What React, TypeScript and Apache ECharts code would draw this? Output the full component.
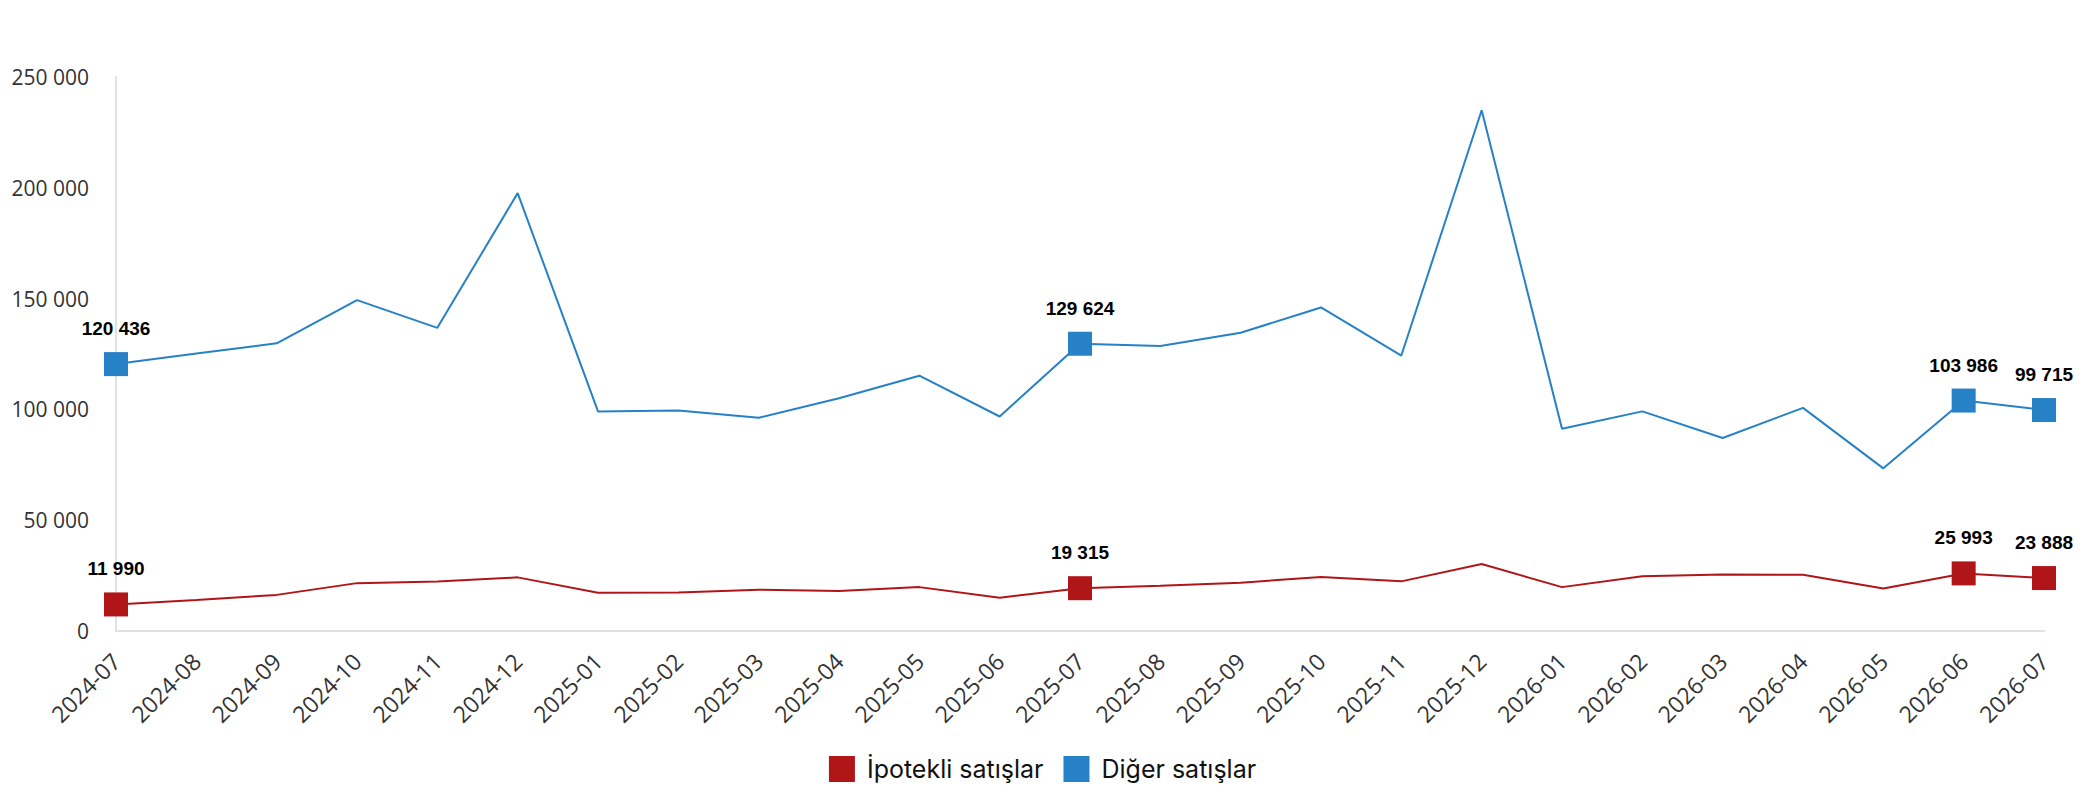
import React, { useEffect, useRef } from "react";
import * as echarts from "echarts";

const categories = [
  "2024-07", "2024-08", "2024-09", "2024-10", "2024-11", "2024-12",
  "2025-01", "2025-02", "2025-03", "2025-04", "2025-05", "2025-06",
  "2025-07", "2025-08", "2025-09", "2025-10", "2025-11", "2025-12",
  "2026-01", "2026-02", "2026-03", "2026-04", "2026-05", "2026-06", "2026-07",
];

const ipotekliValues = [
  11990, 14000, 16300, 21600, 22300, 24200,
  17300, 17400, 18600, 18000, 19800, 15000,
  19315, 20400, 21800, 24400, 22400, 30200,
  19800, 24700, 25500, 25400, 19200, 25993, 23888,
];

const digerValues = [
  120436, 125200, 129800, 149300, 136800, 197600,
  99100, 99500, 96200, 105000, 115200, 96800,
  129624, 128600, 134600, 146000, 124300, 235000,
  91300, 99100, 87100, 100700, 73400, 103986, 99715,
];

const highlighted = [0, 12, 23, 24];

const seriesNames = ["İpotekli satışlar", "Diğer satışlar"];
const seriesColors = ["#B01518", "#2681C7"];

const fmt = (v: number) => String(v).replace(/\B(?=(\d{3})+(?!\d))/g, " ");

function buildData(values: number[]) {
  return values.map((v, i) =>
    highlighted.includes(i)
      ? { value: v, symbol: "rect", symbolSize: 24, label: { show: true } }
      : { value: v, symbol: "none" }
  );
}

export default function App() {
  const ref = useRef<HTMLDivElement>(null);
  useEffect(() => {
    document.body.style.margin = "0";
    if (!ref.current) return;
    const chart = echarts.init(ref.current, undefined, { renderer: "svg" });
    const labelStyle = {
      show: false,
      position: "top",
      distance: 14,
      fontFamily: "Liberation Sans, Arial, sans-serif",
      fontWeight: "bold",
      fontSize: 19,
      color: "#000",
      formatter: (p: any) => fmt(p.value),
    };
    chart.setOption({
      animation: false,
      backgroundColor: "#fff",
      grid: { left: 116, right: 41, top: 77, bottom: 169, containLabel: false },
      legend: {
        data: seriesNames,
        left: "center",
        top: 751,
        icon: "rect",
        itemWidth: 26,
        itemHeight: 26,
        itemGap: 20,
        textStyle: {
          fontFamily: "Inter, sans-serif",
          fontSize: 25,
          color: "#111",
          padding: [0, 0, 0, 7],
        },
      },
      xAxis: {
        type: "category",
        data: categories,
        boundaryGap: false,
        axisLine: { show: true, lineStyle: { color: "#dde1ea", width: 2 } },
        axisTick: { show: false },
        axisLabel: {
          rotate: 45,
          margin: 26,
          interval: 0,
          fontFamily: "Open Sans, sans-serif",
          fontSize: 23,
          color: "#333",
        },
        splitLine: { show: false },
      },
      yAxis: {
        type: "value",
        min: 0,
        max: 250000,
        interval: 50000,
        axisLine: { show: true, lineStyle: { color: "#dde1ea", width: 2 } },
        axisTick: { show: false },
        splitLine: { show: false },
        axisLabel: {
          margin: 27,
          fontFamily: "Open Sans, sans-serif",
          fontSize: 21,
          color: "#333",
          formatter: (v: number) => fmt(v),
        },
      },
      series: [
        {
          name: seriesNames[0],
          type: "line",
          color: seriesColors[0],
          data: buildData(ipotekliValues),
          symbol: "rect",
          symbolSize: 24,
          showAllSymbol: true,
          lineStyle: { width: 2, color: seriesColors[0] },
          itemStyle: { color: seriesColors[0] },
          label: labelStyle,
          z: 3,
        },
        {
          name: seriesNames[1],
          type: "line",
          color: seriesColors[1],
          data: buildData(digerValues),
          symbol: "rect",
          symbolSize: 24,
          showAllSymbol: true,
          lineStyle: { width: 2, color: seriesColors[1] },
          itemStyle: { color: seriesColors[1] },
          label: labelStyle,
          z: 3,
        },
      ],
    });
    return () => chart.dispose();
  }, []);
  return <div ref={ref} style={{ width: 2085, height: 800 }} />;
}
